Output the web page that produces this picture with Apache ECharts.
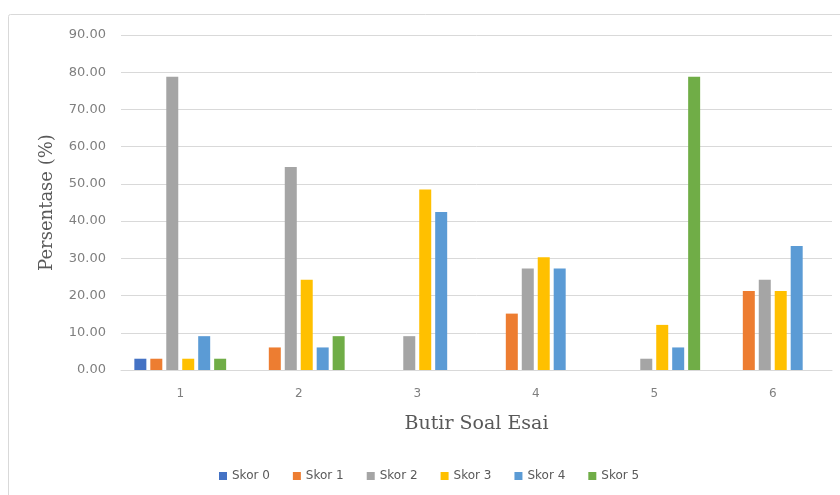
<!DOCTYPE html>
<html>
<head>
<meta charset="utf-8">
<script src="https://cdn.jsdelivr.net/npm/echarts@6/dist/echarts.min.js"></script>
<style>
  html, body { margin: 0; padding: 0; background: #ffffff; }
  #chart { width: 840px; height: 495px; }
</style>
</head>
<body>
<div id="chart"></div>
<script>
// Item numbers of the essay questions
const categories = ['1', '2', '3', '4', '5', '6'];

// Percentage of students per score, one array per score level
const skor0 = [3.03, 0, 0, 0, 0, 0];
const skor1 = [3.03, 6.06, 0, 15.15, 0, 21.21];
const skor2 = [78.79, 54.55, 9.09, 27.27, 3.03, 24.24];
const skor3 = [3.03, 24.24, 48.48, 30.30, 12.12, 21.21];
const skor4 = [9.09, 6.06, 42.42, 27.27, 6.06, 33.33];
const skor5 = [3.03, 9.09, 0, 0, 78.79, 0];

const seriesNames = ['Skor 0', 'Skor 1', 'Skor 2', 'Skor 3', 'Skor 4', 'Skor 5'];
const seriesData = [skor0, skor1, skor2, skor3, skor4, skor5];
const colors = ['#4472C4', '#ED7D31', '#A5A5A5', '#FFC000', '#5B9BD5', '#70AD47'];

const chart = echarts.init(document.getElementById('chart'), null, { renderer: 'canvas' });

const option = {
  animation: false,
  backgroundColor: '#ffffff',
  color: colors,
  graphic: [{
    type: 'rect',
    shape: { x: 8.5, y: 14.5, width: 840, height: 500, r: 2 },
    style: { fill: 'none', stroke: '#d9d9d9', lineWidth: 1 },
    silent: true
  }],
  grid: { left: 121, right: 8, top: 35, bottom: 125, containLabel: false },
  legend: {
    bottom: 8,
    left: 214,
    itemWidth: 8,
    itemHeight: 8,
    itemGap: 23,
    icon: 'rect',
    textStyle: { color: '#595959', fontSize: 12, fontFamily: 'DejaVu Sans' },
    data: seriesNames
  },
  xAxis: {
    type: 'category',
    data: categories,
    name: 'Butir Soal Esai',
    nameLocation: 'middle',
    nameGap: 45,
    nameTextStyle: { fontFamily: 'DejaVu Serif', fontSize: 19, color: '#595959' },
    axisLine: { lineStyle: { color: '#d9d9d9' } },
    axisTick: { show: false },
    axisLabel: { color: '#7f7f7f', fontSize: 12, fontFamily: 'DejaVu Sans', margin: 18 }
  },
  yAxis: {
    type: 'value',
    min: 0,
    max: 90,
    interval: 10,
    name: 'Persentase (%)',
    nameLocation: 'middle',
    nameGap: 65,
    nameRotate: 90,
    nameTextStyle: { fontFamily: 'DejaVu Serif', fontSize: 18, color: '#595959' },
    axisLine: { show: false },
    axisTick: { show: false },
    splitLine: { lineStyle: { color: '#d9d9d9' } },
    axisLabel: {
      color: '#7f7f7f', fontSize: 13, fontFamily: 'DejaVu Sans', margin: 15,
      formatter: v => v.toFixed(2)
    }
  },
  series: seriesNames.map((name, i) => ({
    name: name,
    type: 'bar',
    data: seriesData[i],
    barWidth: 12,
    barGap: '33%',
    itemStyle: { color: colors[i] }
  }))
};

chart.setOption(option);
</script>
</body>
</html>
